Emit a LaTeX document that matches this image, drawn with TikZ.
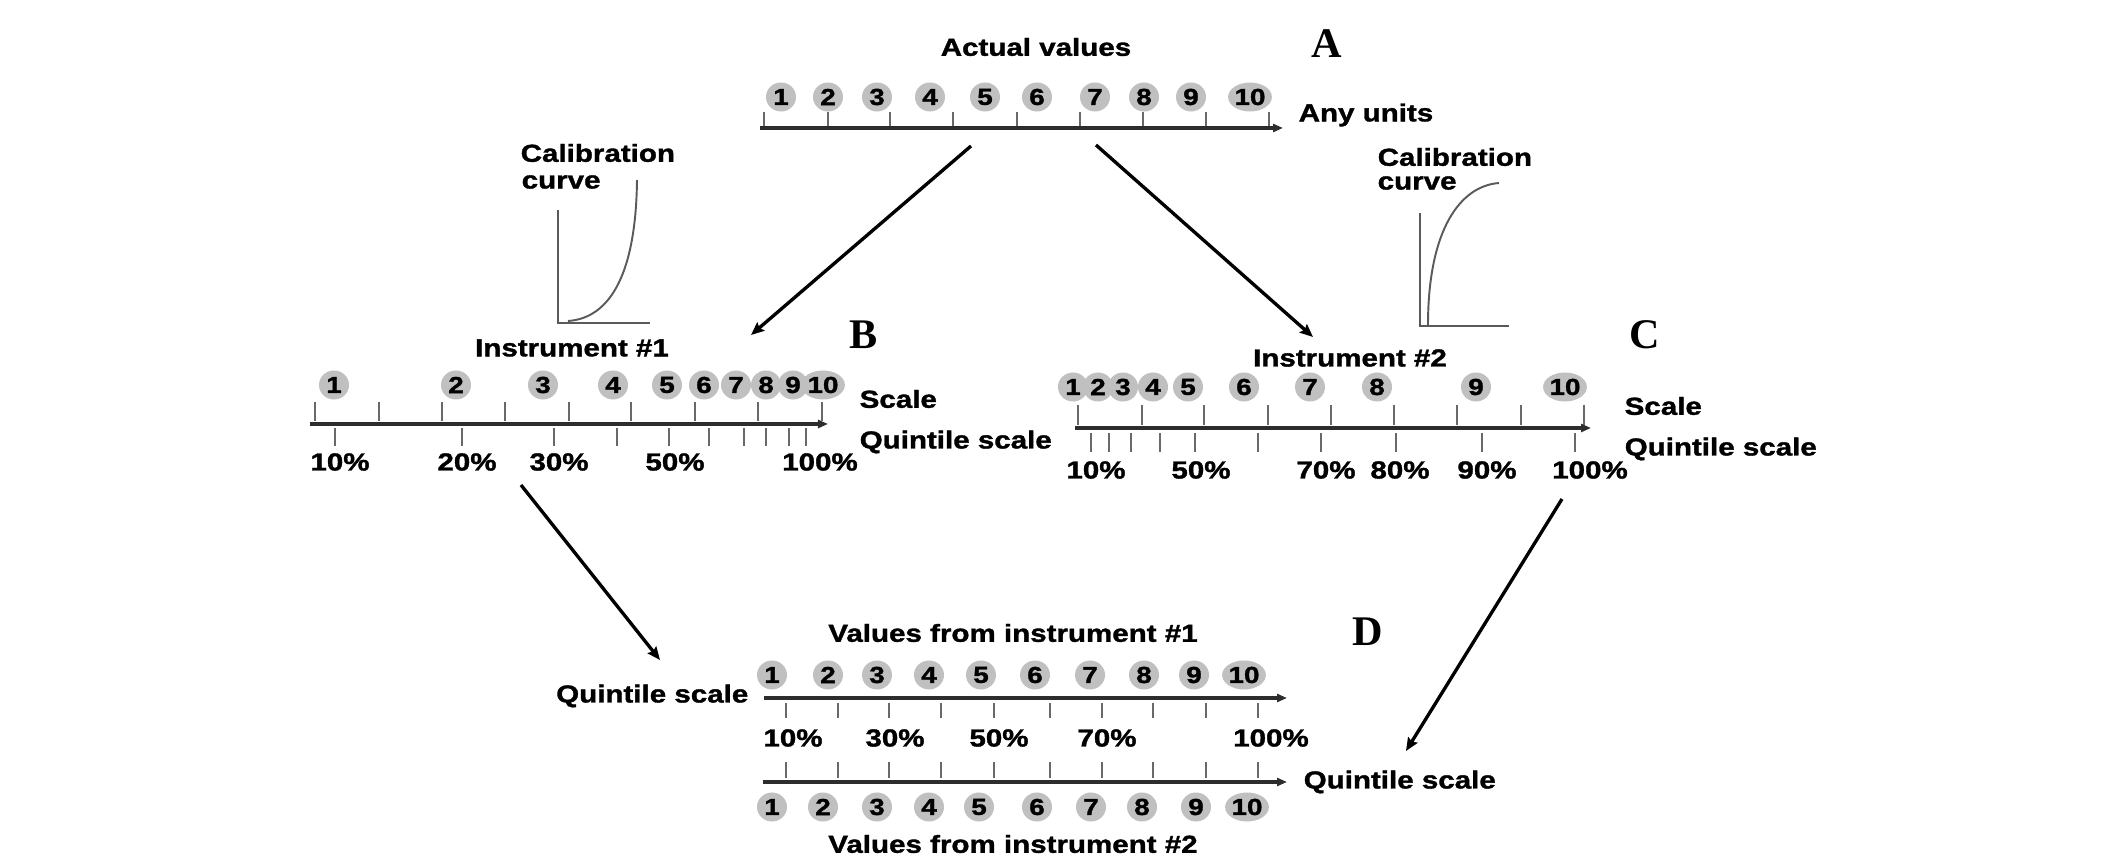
\documentclass[tikz,border=0pt]{standalone}
\usepackage{fontspec}
\setmainfont{Liberation Sans}[FakeStretch=1.2,FakeBold=1.4]
\newfontfamily\letterfont{Liberation Serif}
\usetikzlibrary{arrows.meta,shapes.geometric}
\definecolor{circgray}{RGB}{192,192,192}
\definecolor{axisgray}{RGB}{45,45,45}
\definecolor{tickgray}{RGB}{105,105,105}
\definecolor{curvegray}{RGB}{90,90,90}
\begin{document}
\begin{tikzpicture}[x=0.01cm,y=-0.01cm,
 txt/.style={font=\fontsize{7}{8.5}\selectfont\bfseries, inner sep=0pt},
 num/.style={ellipse, fill=circgray, minimum width=0.30cm, minimum height=0.29cm, inner sep=0pt, font=\fontsize{6.6}{7}\selectfont\bfseries},
 letter/.style={font=\fontsize{12}{14}\selectfont\letterfont\bfseries, inner sep=0pt},
 axis/.style={draw=axisgray, line width=0.9pt, -{Triangle[length=0.1cm,width=0.08cm]}},
 tickmark/.style={draw=tickgray, line width=0.5pt},
 conn/.style={draw=black, line width=0.95pt, -{Stealth[length=0.13cm,width=0.11cm,inset=0.02cm]}},
 calib/.style={draw=curvegray, line width=0.55pt}]
\useasboundingbox (0,0) rectangle (2126,864);

% ---------------- A ----------------
\node[txt] (actual) at (1036,47) {Actual values};
\node[letter] (labA) at (1327,44) {A};
\foreach \x [count=\i] in {781,828,877,930,985,1037,1095,1144,1191,1250}
  \node[num] (a\i) at (\x,97) {\i};
\foreach \x in {764,828,890,953,1017,1080,1143,1206,1269}
  \draw[tickmark] (\x,112) -- (\x,126);
\coordinate (aS) at (760,128); \coordinate (aE) at (1283,128);
\draw[axis] (aS) -- (aE);
\node[txt, anchor=west] (anyunits) at (1298,115) {Any units};

% connectors from A
\coordinate (aL) at (971,146); \coordinate (bIn) at (751,335);
\coordinate (aR) at (1096,145); \coordinate (cIn) at (1313,337);
\draw[conn] (aL) -- (bIn);
\draw[conn] (aR) -- (cIn);

% ---------------- B ----------------
\node[txt, anchor=west] (calB1) at (520,153) {Calibration};
\node[txt, anchor=west] (calB2) at (521,182) {curve};
\draw[calib] (558,210) -- (558,323) -- (650,323);
\draw[calib] (568,321) .. controls (612,318) and (636,270) .. (637,180);
\node[txt] (inst1) at (572,348) {Instrument \#1};
\node[letter] (labB) at (864,335) {B};
\foreach \x [count=\i] in {334,456,543,613,667,704,736,766,793,823}
  \node[num] (b\i) at (\x,385) {\i};
\foreach \x in {315,379,442,505,569,631,695,758,822}
  \draw[tickmark] (\x,402) -- (\x,421);
\coordinate (bS) at (310,424); \coordinate (bE) at (828,424);
\draw[axis] (bS) -- (bE);
\foreach \x in {335,462,554,617,669,709,744,766,789,806}
  \draw[tickmark] (\x,428) -- (\x,446);
\foreach \x/\t in {340/10\%,467/20\%,559/30\%,675/50\%,820/100\%}
  \node[txt] at (\x,462) {\t};
\node[txt, anchor=west] (scB) at (859,399) {Scale};
\node[txt, anchor=west] (qsB) at (859,442) {Quintile scale};

% ---------------- C ----------------
\node[txt, anchor=west] (calC1) at (1377,157) {Calibration};
\node[txt, anchor=west] (calC2) at (1377,183) {curve};
\draw[calib] (1420,213) -- (1420,326) -- (1509,326);
\draw[calib] (1428,325) .. controls (1428,230) and (1460,186) .. (1499,183);
\node[txt] (inst2) at (1350,358) {Instrument \#2};
\node[letter] (labC) at (1645,335) {C};
\foreach \x [count=\i] in {1073,1098,1123,1153,1188,1244,1310,1377,1476,1565}
  \node[num] (c\i) at (\x,387) {\i};
\foreach \x in {1078,1142,1204,1268,1331,1394,1457,1521,1584}
  \draw[tickmark] (\x,405) -- (\x,425);
\coordinate (cS) at (1075,428); \coordinate (cE) at (1591,428);
\draw[axis] (cS) -- (cE);
\foreach \x in {1091,1109,1131,1160,1195,1258,1321,1396,1482,1575}
  \draw[tickmark] (\x,433) -- (\x,452);
\foreach \x/\t in {1096/10\%,1201/50\%,1326/70\%,1400/80\%,1487/90\%,1590/100\%}
  \node[txt] at (\x,470) {\t};
\node[txt, anchor=west] (scC) at (1624,406) {Scale};
\node[txt, anchor=west] (qsC) at (1624,449) {Quintile scale};

% connectors to D
\coordinate (bOut) at (521,485); \coordinate (dIn1) at (660,660);
\coordinate (cOut) at (1562,499); \coordinate (dIn2) at (1406,751);
\draw[conn] (bOut) -- (dIn1);
\draw[conn] (cOut) -- (dIn2);

% ---------------- D ----------------
\node[txt] (vals1) at (1013,633) {Values from instrument \#1};
\node[letter] (labD) at (1368,632) {D};
\foreach \x [count=\i] in {772,828,877,929,981,1035,1090,1144,1194,1244}
  \node[num] (d\i) at (\x,675) {\i};
\node[txt, anchor=east] (qsD1) at (749,696) {Quintile scale};
\coordinate (dS1) at (764,698); \coordinate (dE1) at (1287,698);
\draw[axis] (dS1) -- (dE1);
\foreach \x in {786,838,889,941,994,1050,1102,1153,1206,1258}{
  \draw[tickmark] (\x,703) -- (\x,718);
  \draw[tickmark] (\x,762) -- (\x,778);}
\foreach \x/\t in {793/10\%,895/30\%,999/50\%,1107/70\%,1271/100\%}
  \node[txt] at (\x,738) {\t};
\coordinate (dS2) at (763,782); \coordinate (dE2) at (1287,782);
\draw[axis] (dS2) -- (dE2);
\node[txt, anchor=west] (qsD2) at (1303,782) {Quintile scale};
\foreach \x [count=\i] in {772,823,877,929,979,1037,1091,1142,1196,1247}
  \node[num] (e\i) at (\x,807) {\i};
\node[txt] (vals2) at (1013,844) {Values from instrument \#2};
\end{tikzpicture}
\end{document}
